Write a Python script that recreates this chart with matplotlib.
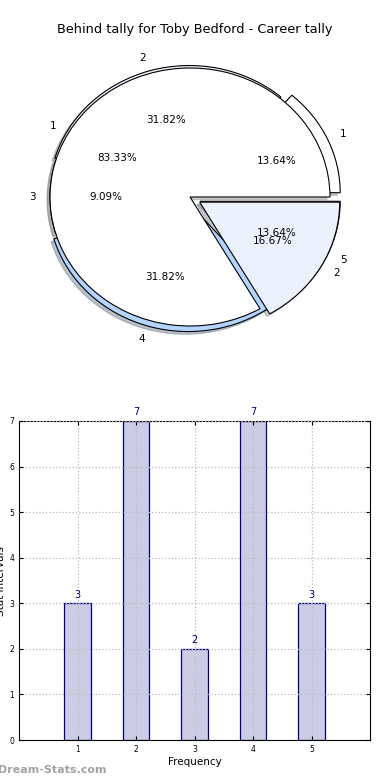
import matplotlib
matplotlib.use("Agg")
import matplotlib.pyplot as plt
from matplotlib.colors import to_rgba

# -----------------------------------------------------------------------------
# Data -----------------------------------------------------------------------
# -----------------------------------------------------------------------------
title = "Behind tally for Toby Bedford - Career tally"

interval_labels = ["1", "2", "3", "4", "5"]
interval_counts = [3, 7, 2, 7, 3]

behind_labels = ["1", "2"]
behind_counts = [5, 1]

# styling for the two pies (kept apart from the data)
explode_intervals = [0.08, 0.02, 0.0, 0.045, 0.08]
colors_intervals = ["white", "#ebf1fd", "white", "#b3d4fc", "#ebf1fd"]
explode_behind = [0.0, 0.08]
colors_behind = ["white", "#ebf1fd"]
shadow_style = {"ox": -0.015, "oy": -0.015, "shade": 0.45, "alpha": 0.45}

fig = plt.figure(figsize=(3.9, 7.8), dpi=100)

# ─ Pie section --------------------------------------------------------------
W, H = 390.0, 780.0
cx, cy, rx, ry = 190.0, 197.0, 140.0, 129.0
lim = 1.35
ax_pie = fig.add_axes([(cx - rx * lim) / W, (H - cy - ry * lim) / H,
                       2 * rx * lim / W, 2 * ry * lim / H])

ax_pie.pie(interval_counts, labels=interval_labels, explode=explode_intervals,
           colors=colors_intervals, autopct="%1.2f%%", shadow=shadow_style,
           startangle=0, textprops={"fontsize": 7.5},
           wedgeprops={"edgecolor": "black", "linewidth": 0.8})
ax_pie.pie(behind_counts, labels=behind_labels, explode=explode_behind,
           colors=colors_behind, autopct="%1.2f%%", shadow=shadow_style,
           startangle=0, textprops={"fontsize": 7.5},
           wedgeprops={"edgecolor": "black", "linewidth": 0.8})
ax_pie.set_aspect("auto")
ax_pie.set_xlim(-lim, lim)
ax_pie.set_ylim(-lim, lim)
ax_pie.axis("off")

fig.text(0.5, 1 - 30 / H, title, ha="center", va="center", fontsize=9.3)

# ─ Bar section --------------------------------------------------------------
ax = fig.add_axes([19 / W, (H - 740) / H, (370 - 19) / W, (740 - 421) / H])
x = range(1, len(interval_counts) + 1)
ax.bar(x, interval_counts, width=0.45, align="center",
       color=to_rgba("navy", 0.2), edgecolor="navy", linewidth=0.9)
for xi, v in zip(x, interval_counts):
    ax.text(xi, v + 0.08, str(v), ha="center", va="bottom", color="navy", fontsize=7)

ax.set_xlim(0, 6)
ax.set_ylim(0, 7)
ax.set_xticks(list(x))
ax.set_xticklabels(interval_labels)
ax.set_yticks(range(0, 8))
ax.tick_params(direction="in", top=True, right=True, labelsize=5.5, length=3)
ax.grid(True, linestyle=":", color="#bbbbbb", linewidth=0.9)
ax.set_axisbelow(False)
ax.set_xlabel("Frequency", fontsize=7.5, labelpad=2)
ax.set_ylabel("Stat Intervals", fontsize=7.5, labelpad=2)

fig.text(-0.005, 1 - 770 / H, "Dream-Stats.com", ha="left", va="center",
         fontsize=8, color="#999999", fontweight="bold", alpha=0.9)

fig.savefig("out.png", dpi=100)
